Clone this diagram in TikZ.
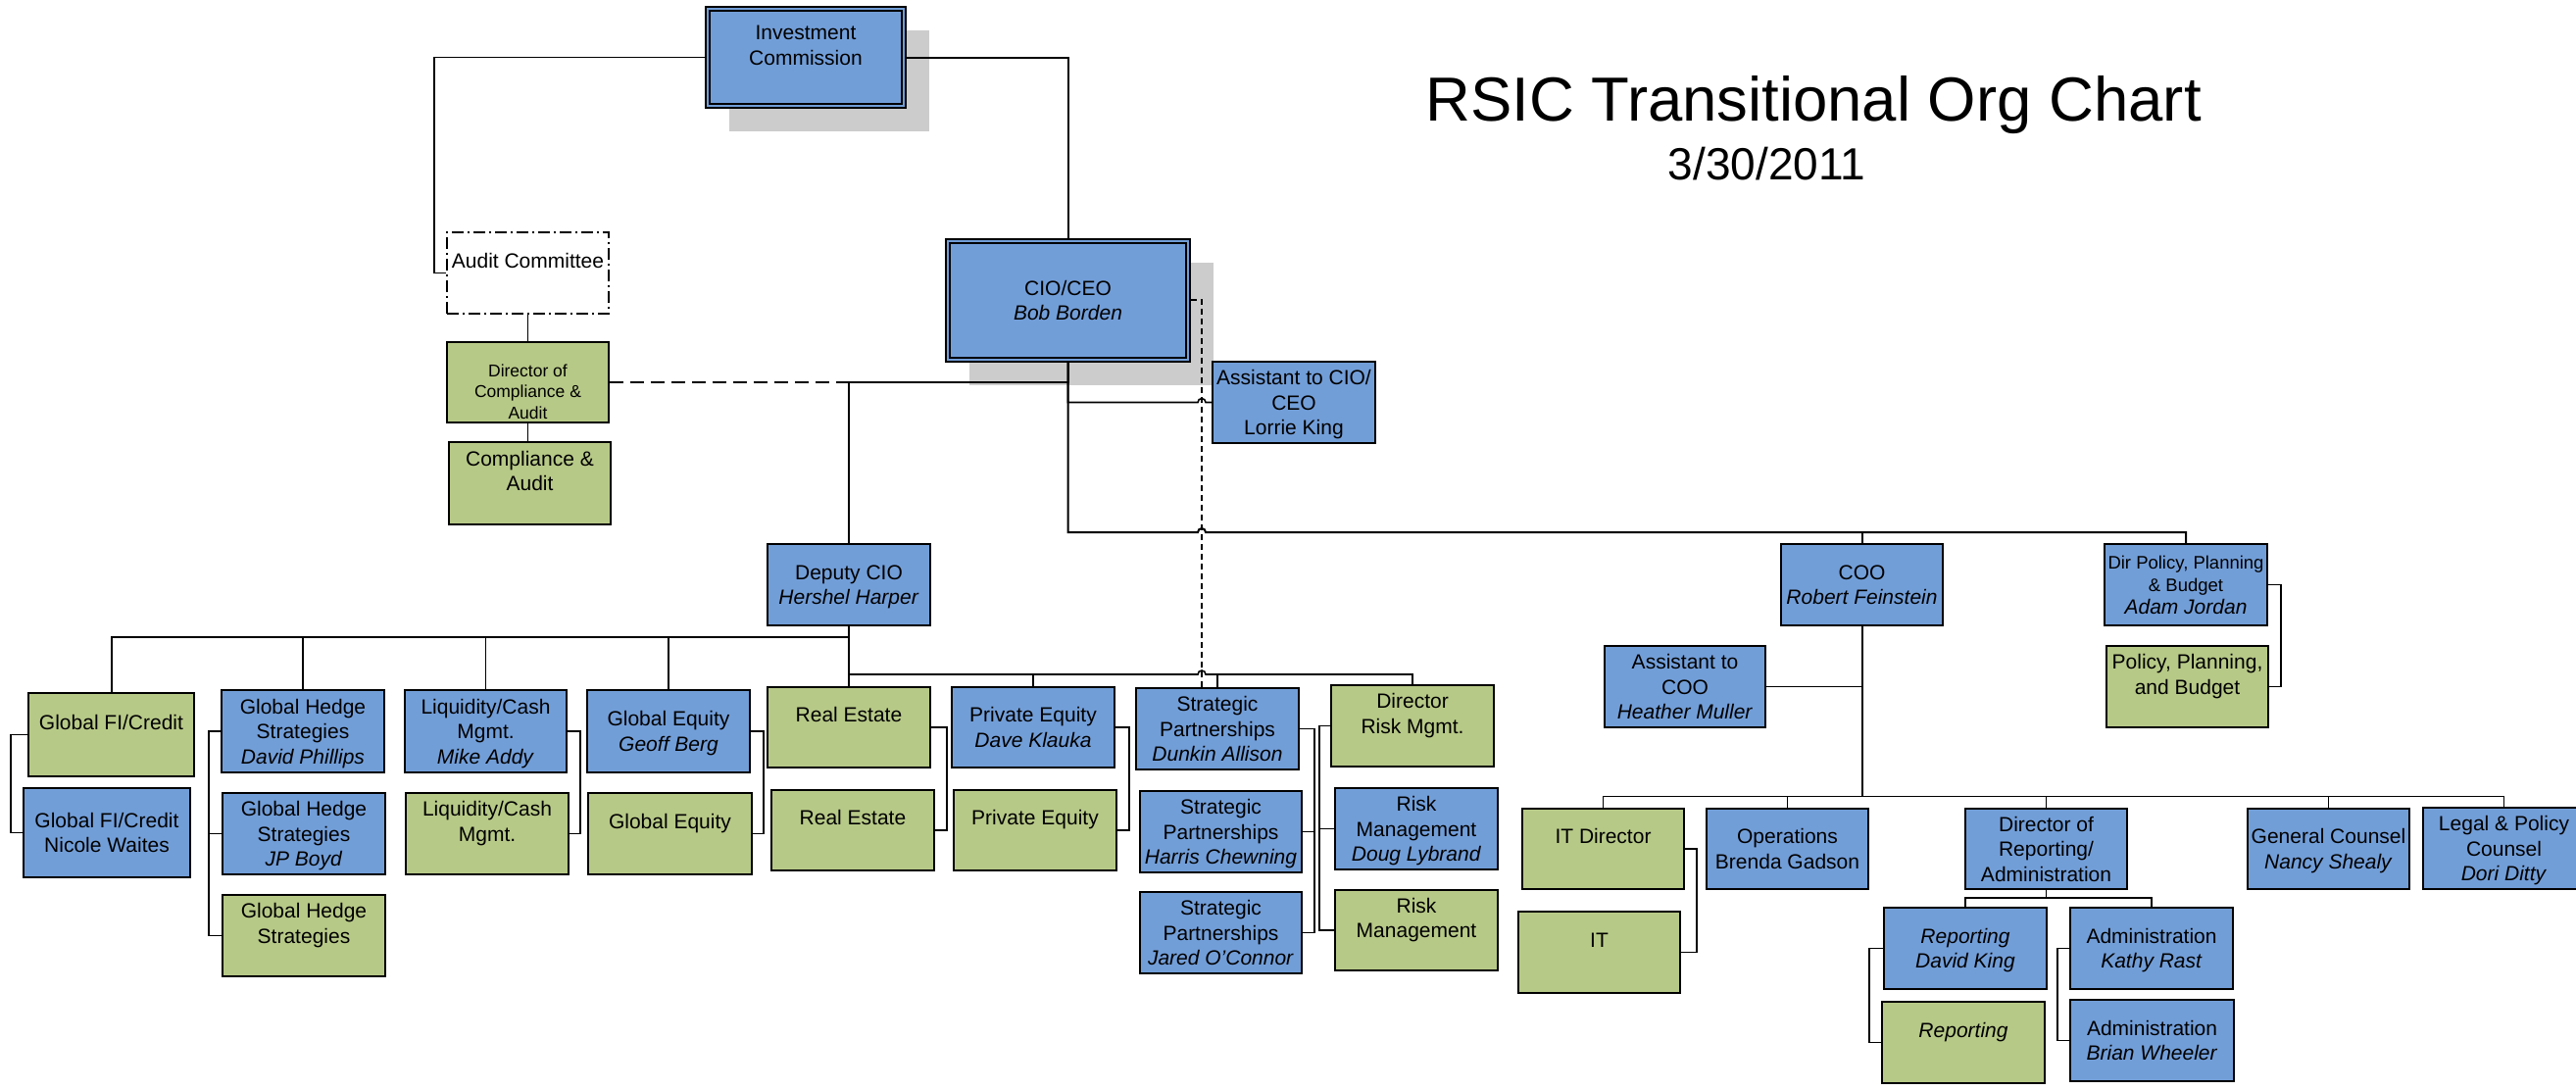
\documentclass[tikz,border=0pt]{standalone}
\usepackage{fontspec}
\setmainfont{Liberation Sans}
\usetikzlibrary{calc,shadows}
\definecolor{boxblue}{RGB}{114,158,216}
\definecolor{boxgreen}{RGB}{183,201,135}
\definecolor{shadowgray}{RGB}{204,204,204}
\newcommand\Ls{\rule[-5.25pt]{0pt}{25.5pt}}
\newcommand\Ss{\rule[-4.9pt]{0pt}{23pt}}
\begin{document}
\begin{tikzpicture}[x=1pt,y=-1pt,
  boxat/.style n args={4}{minimum width={#3-#1}, minimum height={#4-#2}, at={({(#1+#3)/2},{(#2+#4)/2})}},
  box/.style={rectangle, draw=black, line width=1.7pt, inner sep=0pt, align=center, font=\fontsize{21}{25.5}\selectfont},
  bluebox/.style={box, fill=boxblue},
  greenbox/.style={box, fill=boxgreen},
  topbox/.style={bluebox, general shadow={fill=shadowgray, shadow xshift=24pt, shadow yshift=-24pt}},
  conn/.style={line width=1.6pt},
  trunk/.style={line width=2pt},
  dashline/.style={line width=1.6pt, dash pattern=on 14pt off 7pt},
  dashline2/.style={line width=1.5pt, dash pattern=on 6pt off 4pt}]
\useasboundingbox (0,0) rectangle (2628,1111);

% title
\node[anchor=base, font=\fontsize{63.5}{70}\selectfont] (title) at (1850,123) {RSIC Transitional Org Chart};
\node[anchor=base, font=\fontsize{46}{50}\selectfont] (date) at (1802.5,183) {3/30/2011};

% top
\node[topbox, boxat={720}{7}{924}{110}] (ic) {\Ls Investment\\\Ls Commission\\\Ls};
\draw[line width=1.7pt] ([shift={(5,5)}]ic.north west) rectangle ([shift={(-5,-5)}]ic.south east);
\node[topbox, boxat={965}{244}{1214}{369}] (cio) {\Ls CIO/CEO\\\Ls\textit{Bob Borden}};
\draw[line width=1.7pt] ([shift={(5,5)}]cio.north west) rectangle ([shift={(-5,-5)}]cio.south east);

\node[box, fill=white, dash pattern=on 12pt off 4pt on 2pt off 4pt, boxat={456}{237}{621}{320}] (audit) {\Ls Audit Committee\\\Ls};
\node[greenbox, boxat={456}{349}{621}{431}] (dca) {\parbox[c][82pt][t]{165pt}{\centering\fontsize{17.5}{21.5}\selectfont\vspace*{20pt}\strut Director of\\\strut Compliance \&\\\strut Audit}};
\node[greenbox, boxat={458}{451}{623}{535}] (ca) {\Ls Compliance \&\\\Ls Audit\\\Ls};

\node[bluebox, boxat={1237}{369}{1403}{452}] (asst) {\Ls Assistant to CIO/\\\Ls CEO\\\Ls Lorrie King};

% second level
\node[bluebox, boxat={783}{555}{949}{638}] (dep) {\Ls Deputy CIO\\\Ls\textit{Hershel Harper}};
\node[bluebox, boxat={1817}{555}{1982}{638}] (coo) {\Ls COO\\\Ls\textit{Robert Feinstein}};
\node[bluebox, font=\fontsize{18.5}{23}\selectfont, boxat={2147}{555}{2313}{638}] (dpp) {\Ss Dir Policy, Planning\\\Ss \& Budget\\\Ss{\fontsize{21}{23}\selectfont\itshape Adam Jordan}};
\node[greenbox, boxat={2149}{659}{2314}{742}] (ppb) {\Ls Policy, Planning,\\\Ls and Budget\\\Ls};
\node[bluebox, boxat={1637}{659}{1801}{742}] (acoo) {\Ls Assistant to\\\Ls COO\\\Ls\textit{Heather Muller}};

% deputy children
\node[greenbox, boxat={29}{707}{198}{792}] (gfi) {\Ls Global FI/Credit\\\Ls};
\node[bluebox, boxat={24}{804}{194}{895}] (gfin) {\Ls Global FI/Credit\\\Ls Nicole Waites};
\node[bluebox, boxat={226}{704}{392}{788}] (ghs1) {\Ls Global Hedge\\\Ls Strategies\\\Ls\textit{David Phillips}};
\node[bluebox, boxat={227}{809}{393}{892}] (ghs2) {\Ls Global Hedge\\\Ls Strategies\\\Ls\textit{JP Boyd}};
\node[greenbox, boxat={227}{913}{393}{996}] (ghs3) {\Ls Global Hedge\\\Ls Strategies\\\Ls};
\node[bluebox, boxat={413}{704}{578}{788}] (liq1) {\Ls Liquidity/Cash\\\Ls Mgmt.\\\Ls\textit{Mike Addy}};
\node[greenbox, boxat={414}{809}{580}{892}] (liq2) {\Ls Liquidity/Cash\\\Ls Mgmt.\\\Ls};
\node[bluebox, boxat={599}{704}{765}{788}] (geq1) {\Ls Global Equity\\\Ls\textit{Geoff Berg}};
\node[greenbox, boxat={600}{809}{767}{892}] (geq2) {\Ls Global Equity\\\Ls};
\node[greenbox, boxat={783}{701}{949}{783}] (re1) {\Ls Real Estate\\\Ls};
\node[greenbox, boxat={787}{806}{953}{888}] (re2) {\Ls Real Estate\\\Ls};
\node[bluebox, boxat={971}{701}{1137}{783}] (pe1) {\Ls Private Equity\\\Ls\textit{Dave Klauka}};
\node[greenbox, boxat={973}{806}{1139}{888}] (pe2) {\Ls Private Equity\\\Ls};
\node[bluebox, boxat={1159}{702}{1325}{785}] (sp1) {\Ls Strategic\\\Ls Partnerships\\\Ls\textit{Dunkin Allison}};
\node[bluebox, boxat={1163}{807}{1328}{890}] (sp2) {\Ls Strategic\\\Ls Partnerships\\\Ls\textit{Harris Chewning}};
\node[bluebox, boxat={1163}{910}{1328}{993}] (sp3) {\Ls Strategic\\\Ls Partnerships\\\Ls\textit{Jared O’Connor}};
\node[greenbox, boxat={1358}{699}{1524}{782}] (drm) {\Ls Director\\\Ls Risk Mgmt.\\\Ls};
\node[bluebox, boxat={1362}{804}{1528}{887}] (rm1) {\Ls Risk\\\Ls Management\\\Ls\textit{Doug Lybrand}};
\node[greenbox, boxat={1362}{908}{1528}{990}] (rm2) {\Ls Risk\\\Ls Management\\\Ls};

% COO children
\node[greenbox, boxat={1553}{825}{1718}{907}] (itd) {\Ls IT Director\\\Ls};
\node[greenbox, boxat={1549}{930}{1714}{1013}] (it) {\Ls IT\\\Ls};
\node[bluebox, boxat={1741}{825}{1906}{907}] (ops) {\Ls Operations\\\Ls Brenda Gadson};
\node[bluebox, boxat={2005}{825}{2170}{907}] (dra) {\Ls Director of\\\Ls Reporting/\\\Ls Administration};
\node[bluebox, boxat={2293}{825}{2458}{907}] (gc) {\Ls General Counsel\\\Ls\textit{Nancy Shealy}};
\node[bluebox, boxat={2472}{824}{2637}{907}] (lpc) {\Ls Legal \& Policy\\\Ls Counsel\\\Ls\textit{Dori Ditty}};
\node[bluebox, boxat={1922}{926}{2088}{1009}] (rdk) {\Ls\textit{Reporting}\\\Ls\textit{David King}};
\node[greenbox, boxat={1920}{1022}{2086}{1105}] (rep) {\Ls\textit{Reporting}\\\Ls};
\node[bluebox, boxat={2112}{926}{2278}{1009}] (akr) {\Ls Administration\\\Ls\textit{Kathy Rast}};
\node[bluebox, boxat={2112}{1020}{2279}{1103}] (abw) {\Ls Administration\\\Ls\textit{Brian Wheeler}};

% junctions
\coordinate (dashx) at (1226,306);
\coordinate (ctr) at (1089.5,543);
\coordinate (dbar1) at (866,649.5);
\coordinate (dbar2) at (866,688);
\coordinate (cbar) at (1899.5,812.5);
\coordinate (rbar) at (2087.5,916);

% connectors top
\draw[conn] (ic.west) -- ++(-276,0) |- (audit.west);
\draw[trunk] (ic.east) -| (cio.north);
\draw[conn] (audit.south) -- (dca.north);
\draw[conn] (dca.south) -- (dca.south |- ca.north);
\draw[dashline] (dca.east) -- (cio.south |- dca.east);
\draw[trunk] (cio.south) -- ++(0,20) -| (dep.north);
\draw[conn] (cio.south) |- ($(dashx |- asst.west)-(4pt,0)$) arc[start angle=180,end angle=0,radius=4pt] -- (asst.west);
\draw[trunk] (cio.south) -- (ctr) -- ($(dashx |- ctr)-(4pt,0)$) arc[start angle=180,end angle=0,radius=4pt] -| (dpp.north);
\draw[trunk] (coo.north) -- (coo.north |- ctr);
\draw[dashline2] (cio.east |- dashx) -- (dashx) -- (dashx |- sp1.north);

% COO side
\draw[conn] (dpp.east) -- ++(13,0) |- (ppb.east);
\draw[conn] (acoo.east) -- (coo.south |- acoo.east);
\draw[trunk] (coo.south) -- (cbar);
\draw[conn] (itd.north) |- (cbar) -| (lpc.north);
\draw[conn] (ops.north) -- (ops.north |- cbar);
\draw[conn] (dra.north) -- (dra.north |- cbar);
\draw[conn] (gc.north) -- (gc.north |- cbar);
\draw[conn] (itd.east) -- ++(12,0) |- (it.east);
\draw[conn] (dra.south) -- (rbar);
\draw[conn] (rdk.north) |- (rbar) -| (akr.north);
\draw[conn] (rdk.west) -- ++(-14,0) |- (rep.west);
\draw[conn] (akr.west) -- ++(-12,0) |- (abw.west);

% deputy side
\draw[trunk] (dep.south) -- (dbar2);
\draw[trunk] (gfi.north) |- (dbar1);
\draw[conn] (ghs1.north) -- (ghs1.north |- dbar1);
\draw[conn] (liq1.north) -- (liq1.north |- dbar1);
\draw[conn] (geq1.north) -- (geq1.north |- dbar1);
\draw[conn] (re1.north) |- ($(dashx |- dbar2)-(4pt,0)$) arc[start angle=180,end angle=0,radius=4pt] -| (drm.north);
\draw[conn] (pe1.north) -- (pe1.north |- dbar2);
\draw[conn] (sp1.north) -- (sp1.north |- dbar2);

% brackets
\draw[conn] (gfi.west) -- ++(-17,0) |- (gfin.west);
\draw[conn] (ghs1.west) -- ++(-12,0) |- (ghs3.west);
\draw[conn] (ghs2.west) -- ++(-13,0);
\draw[conn] (liq1.east) -- ++(13,0) |- (liq2.east);
\draw[conn] (geq1.east) -- ++(13,0) |- (geq2.east);
\draw[conn] (re1.east) -- ++(16,0) |- (re2.east);
\draw[conn] (pe1.east) -- ++(14,0) |- (pe2.east);
\draw[conn] (sp1.east) -- ++(15,0) |- (sp3.east);
\draw[conn] (sp2.east) -- ++(12,0);
\draw[conn] (drm.west) -- ++(-11,0) |- (rm2.west);
\draw[conn] (rm1.west) -- ++(-15,0);
\end{tikzpicture}
\end{document}
